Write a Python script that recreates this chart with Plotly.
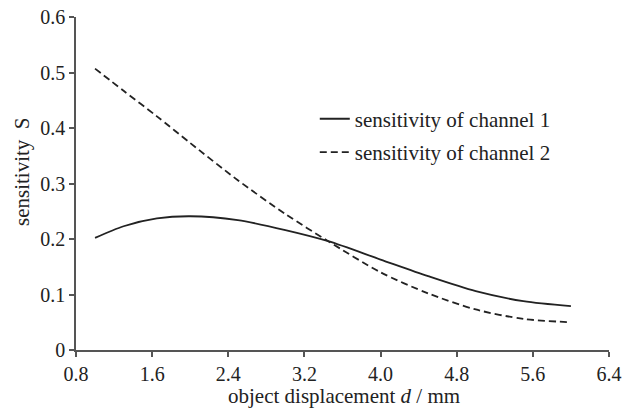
import plotly.graph_objects as go

d_values = [1.0, 1.3, 1.65, 2.0, 2.5, 3.0, 3.45, 4.0, 4.5, 5.0, 5.5, 6.0]
s_channel1 = [0.202, 0.223, 0.237, 0.241, 0.234, 0.216, 0.196, 0.163, 0.133, 0.106, 0.088, 0.079]
s_channel2 = [0.507, 0.467, 0.421, 0.373, 0.306, 0.245, 0.196, 0.140, 0.102, 0.073, 0.056, 0.050]

x_ticks = [0.8, 1.6, 2.4, 3.2, 4.0, 4.8, 5.6, 6.4]
y_ticks = [0, 0.1, 0.2, 0.3, 0.4, 0.5, 0.6]
y_ticklabels = ["0", "0.1", "0.2", "0.3", "0.4", "0.5", "0.6"]

FONT = "Liberation Serif, 'Times New Roman', Times, serif"
INK = "#222222"
AXIS = "#555555"
FS = 21
FS_TICK = 20

W, H = 624, 408
ML, MT = 76, 17
MR, MB = W - 609, H - 350
PW, PH = W - ML - MR, H - MT - MB

fig = go.Figure()
fig.add_trace(go.Scatter(
    x=d_values, y=s_channel1, mode="lines", name="sensitivity of channel 1",
    line=dict(color=INK, width=1.8, shape="spline", smoothing=0.8),
    legendgroup="g1",
))
fig.add_trace(go.Scatter(
    x=d_values, y=s_channel2, mode="lines", name="sensitivity of channel 2",
    line=dict(color=INK, width=1.8, dash="7px,4px", shape="spline", smoothing=0.8),
    legendgroup="g2",
))

# axis titles as annotations at their reference pixel positions
fig.add_annotation(
    text="sensitivity  S", textangle=-90, showarrow=False,
    xref="paper", yref="paper",
    x=(22 - ML) / PW, y=(350 - 172) / PH,
    xanchor="center", yanchor="middle",
    font=dict(family=FONT, size=FS, color=INK),
)
fig.add_annotation(
    text="object displacement <i>d</i> / mm", showarrow=False,
    xref="paper", yref="paper",
    x=(344 - ML) / PW, y=(350 - 396) / PH,
    xanchor="center", yanchor="middle",
    font=dict(family=FONT, size=FS, color=INK),
)

fig.update_layout(
    width=W, height=H,
    margin=dict(l=ML, r=MR, t=MT, b=MB, autoexpand=False),
    paper_bgcolor="white", plot_bgcolor="white",
    font=dict(family=FONT, size=FS, color=INK),
    showlegend=True,
    legend=dict(
        x=0.448, y=0.755, xanchor="left", yanchor="top",
        bgcolor="rgba(0,0,0,0)", borderwidth=0,
        font=dict(family=FONT, size=FS, color=INK),
        tracegroupgap=3, itemwidth=30,
    ),
    xaxis=dict(
        range=[0.8, 6.4], tickvals=x_ticks, tickformat=".1f",
        showgrid=False, zeroline=False, showline=True, linecolor=AXIS, linewidth=1.5,
        ticks="outside", ticklen=5, tickcolor=AXIS, tickwidth=1.5,
        tickfont=dict(family=FONT, size=FS_TICK, color=INK),
        automargin=False, ticklabeloverflow="allow",
    ),
    yaxis=dict(
        range=[0, 0.6], tickvals=y_ticks, ticktext=y_ticklabels,
        showgrid=False, zeroline=False, showline=True, linecolor=AXIS, linewidth=1.5,
        ticks="outside", ticklen=5, tickcolor=AXIS, tickwidth=1.5,
        tickfont=dict(family=FONT, size=FS_TICK, color=INK),
        automargin=False, ticklabeloverflow="allow",
    ),
)

fig.write_html(
    "out.html",
    config={"displayModeBar": False},
    post_script="document.body.style.margin='0';document.body.style.overflow='hidden';",
)
